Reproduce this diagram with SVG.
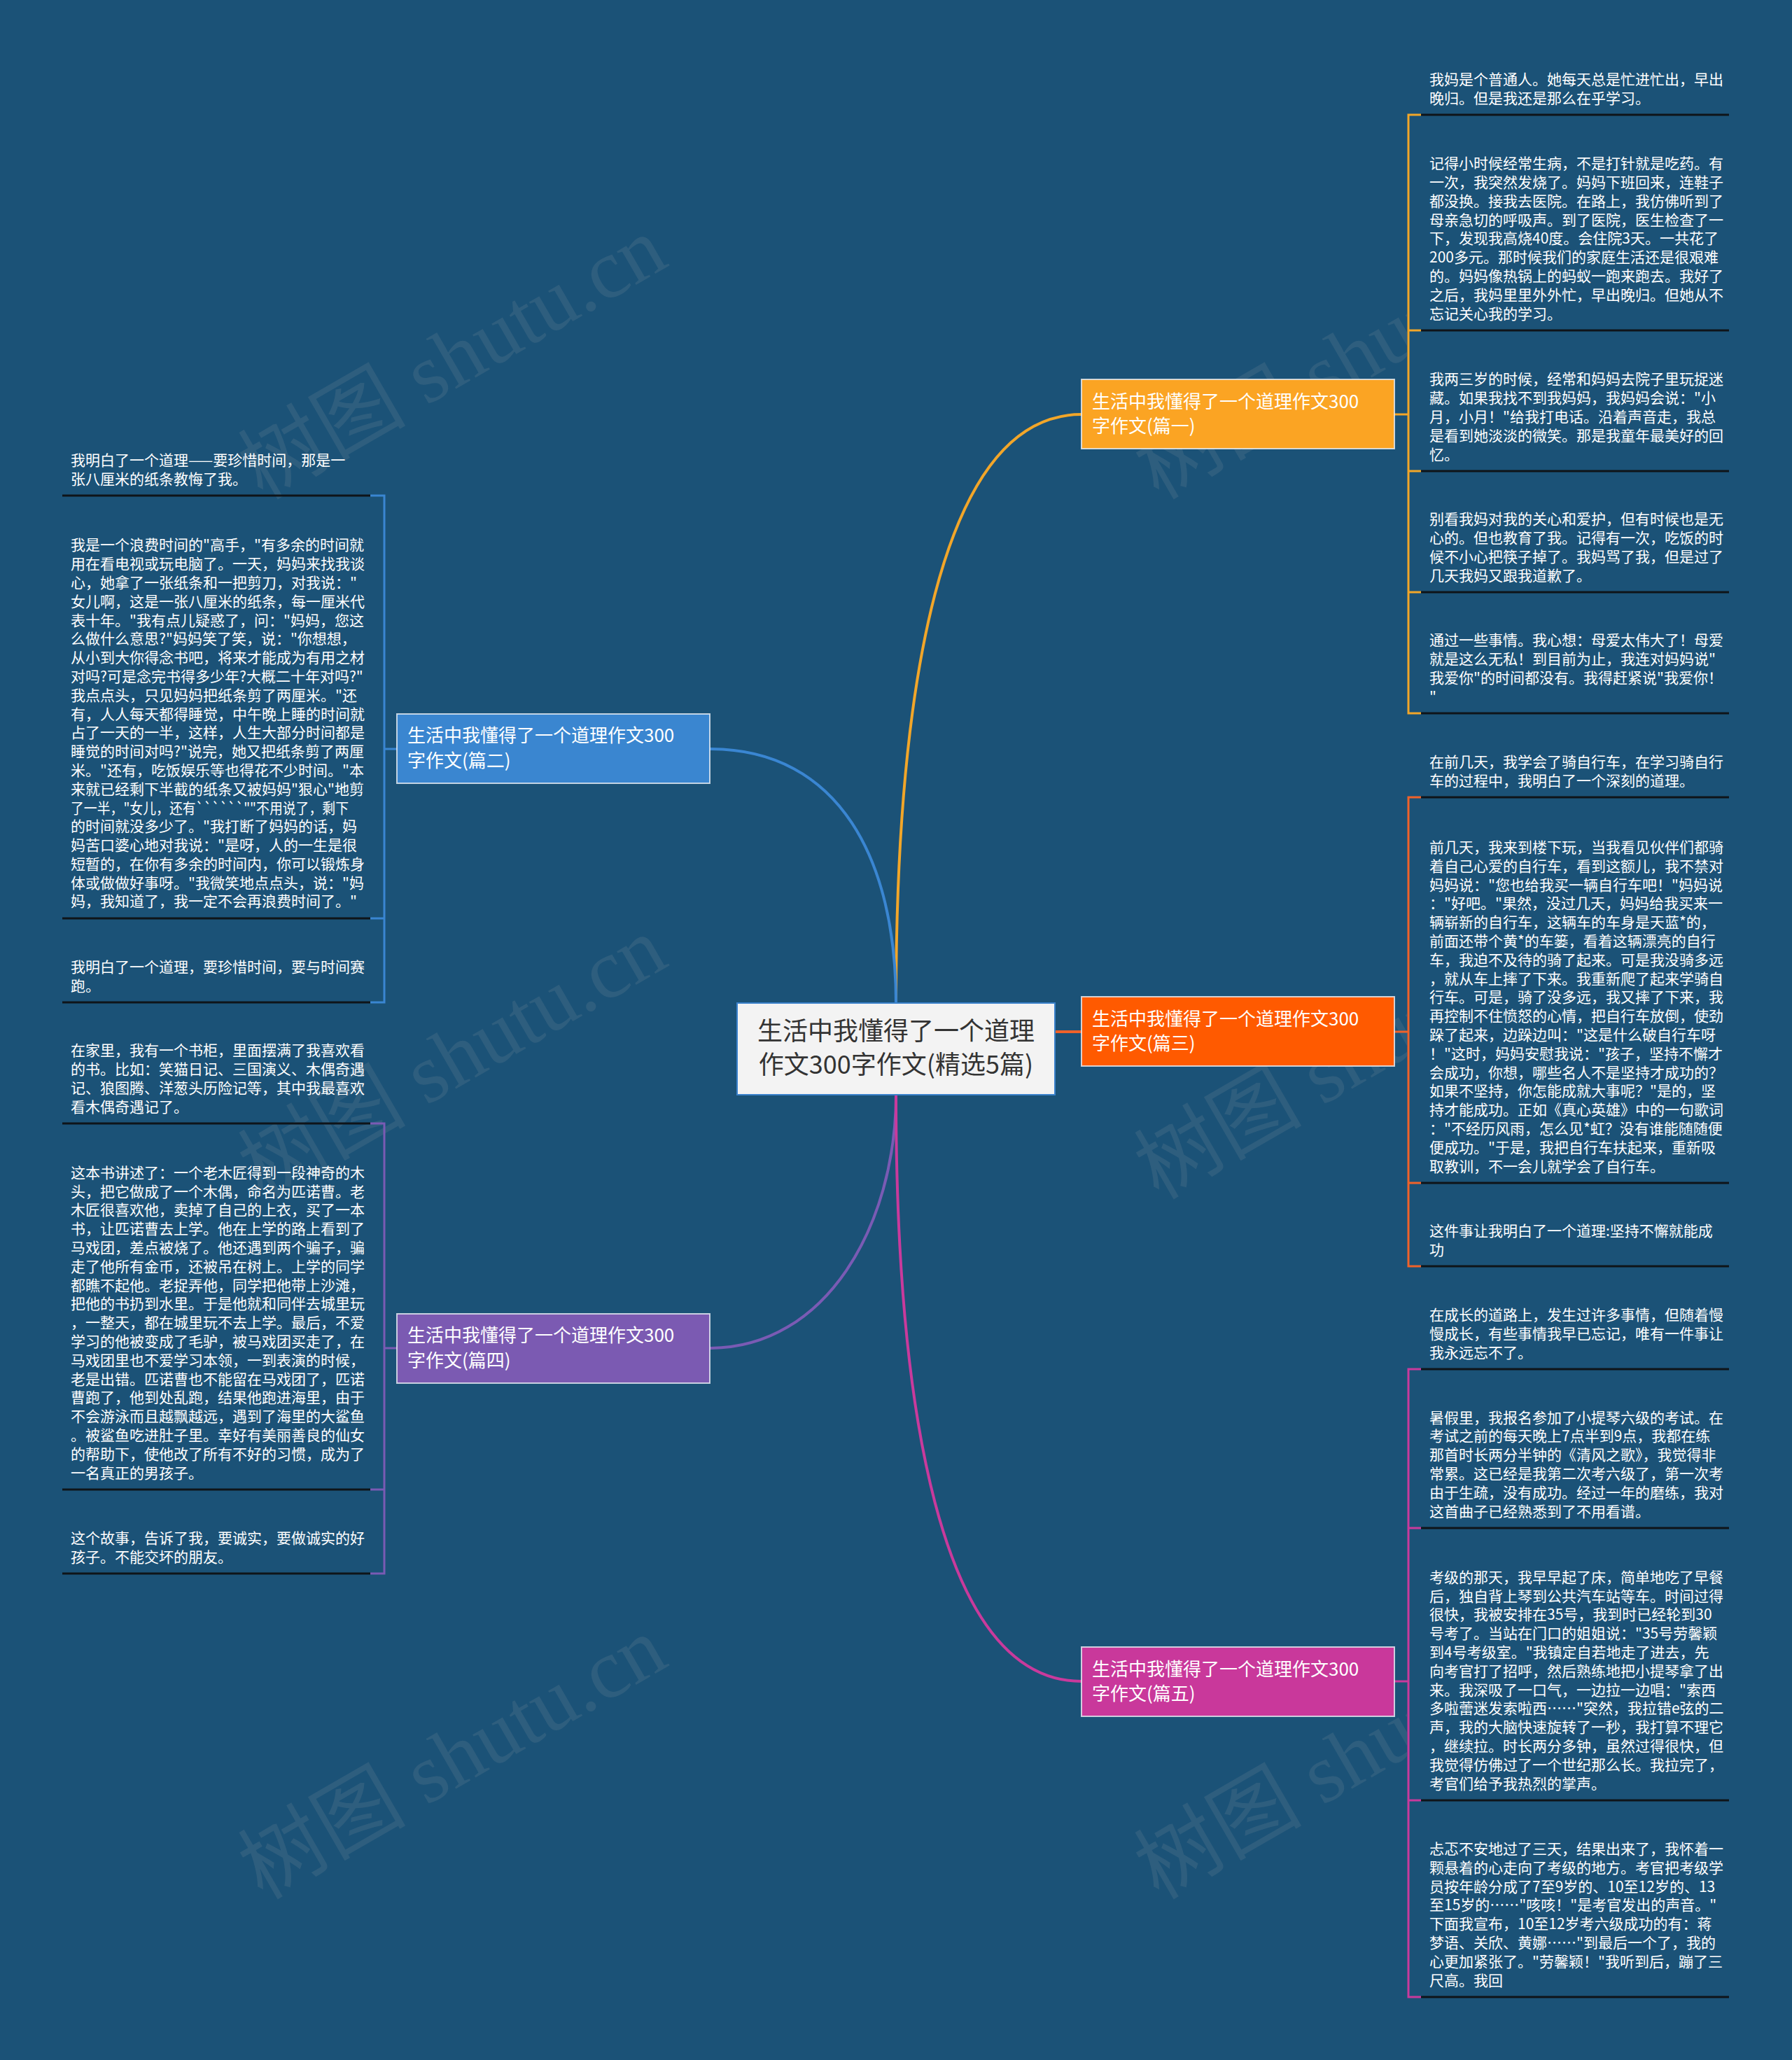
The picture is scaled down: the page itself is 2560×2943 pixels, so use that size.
<svg xmlns="http://www.w3.org/2000/svg" width="2560" height="2943" viewBox="0 0 2560 2943">
<defs>
<style>
.leaf{font-family:"Noto Sans CJK SC","Noto Sans",sans-serif;font-size:21px;fill:#ffffff}
.br{font-family:"Noto Sans CJK SC","Noto Sans",sans-serif;font-size:26px;fill:#ffffff}
.ctr{font-family:"Noto Sans CJK SC","Noto Sans",sans-serif;font-size:36px;fill:#333333}
.ul{stroke:#0f1419;stroke-width:3;fill:none}
.wm{font-family:"Liberation Serif","Noto Sans CJK SC",serif;font-size:120px;fill:#b4b4b4;fill-opacity:0.13}
.nb{stroke:#e8eef4;stroke-width:2;stroke-opacity:0.8}
.cv{fill:none;stroke-width:4}
.bk{fill:none;stroke-width:3}
</style>
<clipPath id="wmclip"><rect x="0" y="0" width="2010" height="2943"/></clipPath>
</defs>
<rect x="0" y="0" width="2560" height="2943" fill="#1b5277"/>
<g id="watermarks" clip-path="url(#wmclip)">
<text class="wm" transform="translate(375 715) rotate(-30)">树图 shutu.cn</text>
<text class="wm" transform="translate(375 1715) rotate(-30)">树图 shutu.cn</text>
<text class="wm" transform="translate(375 2715) rotate(-30)">树图 shutu.cn</text>
<text class="wm" transform="translate(1655 715) rotate(-30)">树图 shutu.cn</text>
<text class="wm" transform="translate(1655 1715) rotate(-30)">树图 shutu.cn</text>
<text class="wm" transform="translate(1655 2715) rotate(-30)">树图 shutu.cn</text>
</g>
<g id="connectors">
<path class="cv" stroke="#f2a629" d="M1280 1433 C1280 997, 1340 592, 1545 592"/>
<path class="cv" stroke="#3a86d2" d="M1280 1433 C1280 1230, 1200 1070, 1014 1070"/>
<path class="cv" stroke="#7a5bb4" d="M1280 1564 C1280 1750, 1180 1926, 1014 1926"/>
<path class="cv" stroke="#c93a9c" d="M1280 1564 C1280 2000, 1340 2402, 1545 2402"/>
<path class="cv" stroke="#f0622a" d="M1507 1474 H1545"/>
<path class="bk" stroke="#f2a629" d="M2030 164 H2012 V1019 H2030 M2012 472 H2030 M2012 673 H2030 M2012 846 H2030 M1992 592 H2012"/>
<path class="bk" stroke="#f0622a" d="M2030 1139 H2012 V1809 H2030 M2012 1690 H2030 M1992 1474 H2012"/>
<path class="bk" stroke="#c93a9c" d="M2030 1956 H2012 V2853 H2030 M2012 2183 H2030 M2012 2572 H2030 M1992 2402 H2012"/>
<path class="bk" stroke="#3a86d2" d="M529 708 H549 V1432 H529 M549 1312 H529 M567 1070 H549"/>
<path class="bk" stroke="#7a5bb4" d="M529 1605 H549 V2248 H529 M549 2128 H529 M567 1926 H549"/>
<path class="ul" d="M2030 164 H2470 M2030 472 H2470 M2030 673 H2470 M2030 846 H2470 M2030 1019 H2470 M2030 1139 H2470 M2030 1690 H2470 M2030 1809 H2470 M2030 1956 H2470 M2030 2183 H2470 M2030 2572 H2470 M2030 2853 H2470"/>
<path class="ul" d="M89 708 H529 M89 1312 H529 M89 1432 H529 M89 1605 H529 M89 2128 H529 M89 2248 H529"/>
</g>
<g id="center">
<rect x="1053" y="1433" width="454" height="131" fill="#f3f3f3" stroke="#3b82cc" stroke-width="2"/>
<text class="ctr" text-anchor="middle"><tspan x="1280" y="1486">生活中我懂得了一个道理</tspan><tspan x="1280" y="1534">作文300字作文(精选5篇)</tspan></text>
</g>
<g id="b1">
<rect class="nb" x="1545" y="542" width="447" height="99" fill="#fba423"/>
<text class="br"><tspan x="1560" y="583">生活中我懂得了一个道理作文300</tspan><tspan x="1560" y="618">字作文(篇一)</tspan></text>
</g>
<g id="b3">
<rect class="nb" x="1545" y="1424" width="447" height="99" fill="#ff5a00"/>
<text class="br"><tspan x="1560" y="1465">生活中我懂得了一个道理作文300</tspan><tspan x="1560" y="1500">字作文(篇三)</tspan></text>
</g>
<g id="b5">
<rect class="nb" x="1545" y="2353" width="447" height="99" fill="#c9389b"/>
<text class="br"><tspan x="1560" y="2394">生活中我懂得了一个道理作文300</tspan><tspan x="1560" y="2429">字作文(篇五)</tspan></text>
</g>
<g id="b2">
<rect class="nb" x="567" y="1020" width="447" height="99" fill="#3a86d0"/>
<text class="br"><tspan x="582" y="1060">生活中我懂得了一个道理作文300</tspan><tspan x="582" y="1096">字作文(篇二)</tspan></text>
</g>
<g id="b4">
<rect class="nb" x="567" y="1877" width="447" height="99" fill="#7b5ab2"/>
<text class="br"><tspan x="582" y="1917">生活中我懂得了一个道理作文300</tspan><tspan x="582" y="1953">字作文(篇四)</tspan></text>
</g>
<g id="b1-leaf1"><text class="leaf"><tspan x="2042" y="120.7">我妈是个普通人。她每天总是忙进忙出，早出</tspan><tspan x="2042" dy="26.8">晚归。但是我还是那么在乎学习。</tspan></text></g>
<g id="b1-leaf2"><text class="leaf"><tspan x="2042" y="241.1">记得小时候经常生病，不是打针就是吃药。有</tspan><tspan x="2042" dy="26.8">一次，我突然发烧了。妈妈下班回来，连鞋子</tspan><tspan x="2042" dy="26.8">都没换。接我去医院。在路上，我仿佛听到了</tspan><tspan x="2042" dy="26.8">母亲急切的呼吸声。到了医院，医生检查了一</tspan><tspan x="2042" dy="26.8">下，发现我高烧40度。会住院3天。一共花了</tspan><tspan x="2042" dy="26.8">200多元。那时候我们的家庭生活还是很艰难</tspan><tspan x="2042" dy="26.8">的。妈妈像热锅上的蚂蚁一跑来跑去。我好了</tspan><tspan x="2042" dy="26.8">之后，我妈里里外外忙，早出晚归。但她从不</tspan><tspan x="2042" dy="26.8">忘记关心我的学习。</tspan></text></g>
<g id="b1-leaf3"><text class="leaf"><tspan x="2042" y="549.3">我两三岁的时候，经常和妈妈去院子里玩捉迷</tspan><tspan x="2042" dy="26.8">藏。如果我找不到我妈妈，我妈妈会说："小</tspan><tspan x="2042" dy="26.8">月，小月！"给我打电话。沿着声音走，我总</tspan><tspan x="2042" dy="26.8">是看到她淡淡的微笑。那是我童年最美好的回</tspan><tspan x="2042" dy="26.8">忆。</tspan></text></g>
<g id="b1-leaf4"><text class="leaf"><tspan x="2042" y="749.1">别看我妈对我的关心和爱护，但有时候也是无</tspan><tspan x="2042" dy="26.8">心的。但也教育了我。记得有一次，吃饭的时</tspan><tspan x="2042" dy="26.8">候不小心把筷子掉了。我妈骂了我，但是过了</tspan><tspan x="2042" dy="26.8">几天我妈又跟我道歉了。</tspan></text></g>
<g id="b1-leaf5"><text class="leaf"><tspan x="2042" y="922.1">通过一些事情。我心想：母爱太伟大了！母爱</tspan><tspan x="2042" dy="26.8">就是这么无私！到目前为止，我连对妈妈说"</tspan><tspan x="2042" dy="26.8">我爱你"的时间都没有。我得赶紧说"我爱你！</tspan><tspan x="2042" dy="26.8">"</tspan></text></g>
<g id="b3-leaf1"><text class="leaf"><tspan x="2042" y="1095.7">在前几天，我学会了骑自行车，在学习骑自行</tspan><tspan x="2042" dy="26.8">车的过程中，我明白了一个深刻的道理。</tspan></text></g>
<g id="b3-leaf2"><text class="leaf"><tspan x="2042" y="1217.9">前几天，我来到楼下玩，当我看见伙伴们都骑</tspan><tspan x="2042" dy="26.8">着自己心爱的自行车，看到这额儿，我不禁对</tspan><tspan x="2042" dy="26.8">妈妈说："您也给我买一辆自行车吧！"妈妈说</tspan><tspan x="2042" dy="26.8">："好吧。"果然，没过几天，妈妈给我买来一</tspan><tspan x="2042" dy="26.8">辆崭新的自行车，这辆车的车身是天蓝*的，</tspan><tspan x="2042" dy="26.8">前面还带个黄*的车篓，看着这辆漂亮的自行</tspan><tspan x="2042" dy="26.8">车，我迫不及待的骑了起来。可是我没骑多远</tspan><tspan x="2042" dy="26.8">，就从车上摔了下来。我重新爬了起来学骑自</tspan><tspan x="2042" dy="26.8">行车。可是，骑了没多远，我又摔了下来，我</tspan><tspan x="2042" dy="26.8">再控制不住愤怒的心情，把自行车放倒，使劲</tspan><tspan x="2042" dy="26.8">跺了起来，边跺边叫："这是什么破自行车呀</tspan><tspan x="2042" dy="26.8">！"这时，妈妈安慰我说："孩子，坚持不懈才</tspan><tspan x="2042" dy="26.8">会成功，你想，哪些名人不是坚持才成功的？</tspan><tspan x="2042" dy="26.8">如果不坚持，你怎能成就大事呢？"是的，坚</tspan><tspan x="2042" dy="26.8">持才能成功。正如《真心英雄》中的一句歌词</tspan><tspan x="2042" dy="26.8">："不经历风雨，怎么见*虹？没有谁能随随便</tspan><tspan x="2042" dy="26.8">便成功。"于是，我把自行车扶起来，重新吸</tspan><tspan x="2042" dy="26.8">取教训，不一会儿就学会了自行车。</tspan></text></g>
<g id="b3-leaf3"><text class="leaf"><tspan x="2042" y="1765.7">这件事让我明白了一个道理:坚持不懈就能成</tspan><tspan x="2042" dy="26.8">功</tspan></text></g>
<g id="b5-leaf1"><text class="leaf"><tspan x="2042" y="1885.9">在成长的道路上，发生过许多事情，但随着慢</tspan><tspan x="2042" dy="26.8">慢成长，有些事情我早已忘记，唯有一件事让</tspan><tspan x="2042" dy="26.8">我永远忘不了。</tspan></text></g>
<g id="b5-leaf2"><text class="leaf"><tspan x="2042" y="2032.5">暑假里，我报名参加了小提琴六级的考试。在</tspan><tspan x="2042" dy="26.8">考试之前的每天晚上7点半到9点，我都在练</tspan><tspan x="2042" dy="26.8">那首时长两分半钟的《清风之歌》，我觉得非</tspan><tspan x="2042" dy="26.8">常累。这已经是我第二次考六级了，第一次考</tspan><tspan x="2042" dy="26.8">由于生疏，没有成功。经过一年的磨练，我对</tspan><tspan x="2042" dy="26.8">这首曲子已经熟悉到了不用看谱。</tspan></text></g>
<g id="b5-leaf3"><text class="leaf"><tspan x="2042" y="2260.7">考级的那天，我早早起了床，简单地吃了早餐</tspan><tspan x="2042" dy="26.8">后，独自背上琴到公共汽车站等车。时间过得</tspan><tspan x="2042" dy="26.8">很快，我被安排在35号，我到时已经轮到30</tspan><tspan x="2042" dy="26.8">号考了。当站在门口的姐姐说："35号劳馨颖</tspan><tspan x="2042" dy="26.8">到4号考级室。"我镇定自若地走了进去，先</tspan><tspan x="2042" dy="26.8">向考官打了招呼，然后熟练地把小提琴拿了出</tspan><tspan x="2042" dy="26.8">来。我深吸了一口气，一边拉一边唱："索西</tspan><tspan x="2042" dy="26.8">多啦蕾迷发索啦西……"突然，我拉错e弦的二</tspan><tspan x="2042" dy="26.8">声，我的大脑快速旋转了一秒，我打算不理它</tspan><tspan x="2042" dy="26.8">，继续拉。时长两分多钟，虽然过得很快，但</tspan><tspan x="2042" dy="26.8">我觉得仿佛过了一个世纪那么长。我拉完了，</tspan><tspan x="2042" dy="26.8">考官们给予我热烈的掌声。</tspan></text></g>
<g id="b5-leaf4"><text class="leaf"><tspan x="2042" y="2648.9">忐忑不安地过了三天，结果出来了，我怀着一</tspan><tspan x="2042" dy="26.8">颗悬着的心走向了考级的地方。考官把考级学</tspan><tspan x="2042" dy="26.8">员按年龄分成了7至9岁的、10至12岁的、13</tspan><tspan x="2042" dy="26.8">至15岁的……"咳咳！"是考官发出的声音。"</tspan><tspan x="2042" dy="26.8">下面我宣布，10至12岁考六级成功的有：蒋</tspan><tspan x="2042" dy="26.8">梦语、关欣、黄娜……"到最后一个了，我的</tspan><tspan x="2042" dy="26.8">心更加紧张了。"劳馨颖！"我听到后，蹦了三</tspan><tspan x="2042" dy="26.8">尺高。我回</tspan></text></g>
<g id="b2-leaf1"><text class="leaf"><tspan x="101" y="664.7">我明白了一个道理——要珍惜时间，那是一</tspan><tspan x="101" dy="26.8">张八厘米的纸条教悔了我。</tspan></text></g>
<g id="b2-leaf2"><text class="leaf"><tspan x="101" y="786.3">我是一个浪费时间的"高手，"有多余的时间就</tspan><tspan x="101" dy="26.8">用在看电视或玩电脑了。一天，妈妈来找我谈</tspan><tspan x="101" dy="26.8">心，她拿了一张纸条和一把剪刀，对我说："</tspan><tspan x="101" dy="26.8">女儿啊，这是一张八厘米的纸条，每一厘米代</tspan><tspan x="101" dy="26.8">表十年。"我有点儿疑惑了，问："妈妈，您这</tspan><tspan x="101" dy="26.8">么做什么意思?"妈妈笑了笑，说："你想想，</tspan><tspan x="101" dy="26.8">从小到大你得念书吧，将来才能成为有用之材</tspan><tspan x="101" dy="26.8">对吗?可是念完书得多少年?大概二十年对吗?"</tspan><tspan x="101" dy="26.8">我点点头，只见妈妈把纸条剪了两厘米。"还</tspan><tspan x="101" dy="26.8">有，人人每天都得睡觉，中午晚上睡的时间就</tspan><tspan x="101" dy="26.8">占了一天的一半，这样，人生大部分时间都是</tspan><tspan x="101" dy="26.8">睡觉的时间对吗?"说完，她又把纸条剪了两厘</tspan><tspan x="101" dy="26.8">米。"还有，吃饭娱乐等也得花不少时间。"本</tspan><tspan x="101" dy="26.8">来就已经剩下半截的纸条又被妈妈"狠心"地剪</tspan><tspan x="101" dy="26.8" textLength="397" lengthAdjust="spacingAndGlyphs">了一半，"女儿，还有``````""不用说了，剩下</tspan><tspan x="101" dy="26.8">的时间就没多少了。"我打断了妈妈的话，妈</tspan><tspan x="101" dy="26.8">妈苦口婆心地对我说："是呀，人的一生是很</tspan><tspan x="101" dy="26.8">短暂的，在你有多余的时间内，你可以锻炼身</tspan><tspan x="101" dy="26.8">体或做做好事呀。"我微笑地点点头，说："妈</tspan><tspan x="101" dy="26.8">妈，我知道了，我一定不会再浪费时间了。"</tspan></text></g>
<g id="b2-leaf3"><text class="leaf"><tspan x="101" y="1388.7">我明白了一个道理，要珍惜时间，要与时间赛</tspan><tspan x="101" dy="26.8">跑。</tspan></text></g>
<g id="b4-leaf1"><text class="leaf"><tspan x="101" y="1508.1">在家里，我有一个书柜，里面摆满了我喜欢看</tspan><tspan x="101" dy="26.8">的书。比如：笑猫日记、三国演义、木偶奇遇</tspan><tspan x="101" dy="26.8">记、狼图腾、洋葱头历险记等，其中我最喜欢</tspan><tspan x="101" dy="26.8">看木偶奇遇记了。</tspan></text></g>
<g id="b4-leaf2"><text class="leaf"><tspan x="101" y="1682.7">这本书讲述了：一个老木匠得到一段神奇的木</tspan><tspan x="101" dy="26.8">头，把它做成了一个木偶，命名为匹诺曹。老</tspan><tspan x="101" dy="26.8">木匠很喜欢他，卖掉了自己的上衣，买了一本</tspan><tspan x="101" dy="26.8">书，让匹诺曹去上学。他在上学的路上看到了</tspan><tspan x="101" dy="26.8">马戏团，差点被烧了。他还遇到两个骗子，骗</tspan><tspan x="101" dy="26.8">走了他所有金币，还被吊在树上。上学的同学</tspan><tspan x="101" dy="26.8">都瞧不起他。老捉弄他，同学把他带上沙滩，</tspan><tspan x="101" dy="26.8">把他的书扔到水里。于是他就和同伴去城里玩</tspan><tspan x="101" dy="26.8">，一整天，都在城里玩不去上学。最后，不爱</tspan><tspan x="101" dy="26.8">学习的他被变成了毛驴，被马戏团买走了，在</tspan><tspan x="101" dy="26.8">马戏团里也不爱学习本领，一到表演的时候，</tspan><tspan x="101" dy="26.8">老是出错。匹诺曹也不能留在马戏团了，匹诺</tspan><tspan x="101" dy="26.8">曹跑了，他到处乱跑，结果他跑进海里，由于</tspan><tspan x="101" dy="26.8">不会游泳而且越飘越远，遇到了海里的大鲨鱼</tspan><tspan x="101" dy="26.8">。被鲨鱼吃进肚子里。幸好有美丽善良的仙女</tspan><tspan x="101" dy="26.8">的帮助下，使他改了所有不好的习惯，成为了</tspan><tspan x="101" dy="26.8">一名真正的男孩子。</tspan></text></g>
<g id="b4-leaf3"><text class="leaf"><tspan x="101" y="2204.7">这个故事，告诉了我，要诚实，要做诚实的好</tspan><tspan x="101" dy="26.8">孩子。不能交坏的朋友。</tspan></text></g>
</svg>
